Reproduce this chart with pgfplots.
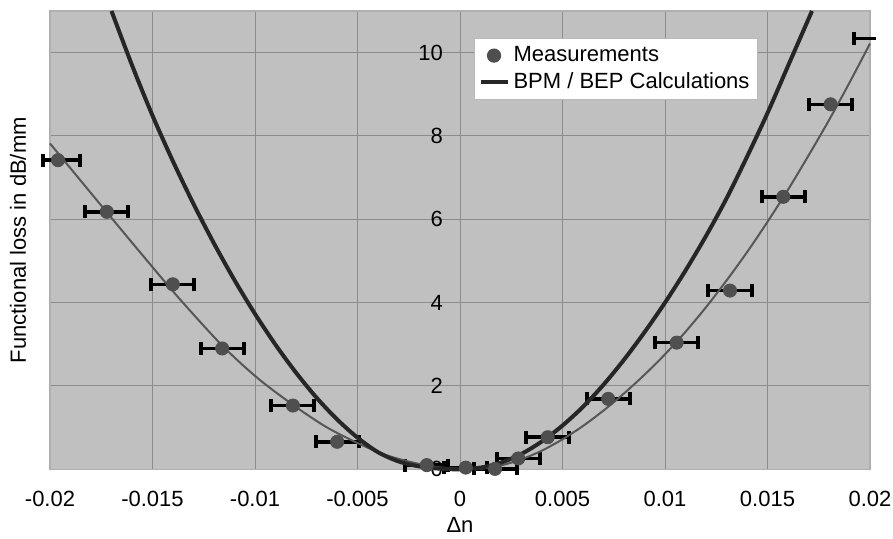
\documentclass[border=0pt]{standalone}
\usepackage{fontspec}
\setmainfont{Liberation Sans}
\usepackage{pgfplots}
\pgfplotsset{compat=1.18}
\definecolor{plotbg}{HTML}{C0C0C0}
\definecolor{gridgray}{HTML}{8C8C8C}
\definecolor{markgray}{HTML}{4F4F4F}
\definecolor{fitgray}{HTML}{575757}
\definecolor{calcdark}{HTML}{262626}

\begin{document}
\begin{tikzpicture}[font=\fontsize{11}{13}\selectfont]
  \begin{axis}[
    at={(0,0)}, anchor=south west,
    scale only axis, width=410pt, height=229.15pt,
    xmin=-0.02, xmax=0.02, ymin=0, ymax=11,
    clip=false,
    scaled x ticks=false, scaled y ticks=false,
    axis background/.style={fill=plotbg},
    axis line style={draw=gridgray!70!white, line width=0.6pt},
    grid=major,
    major grid style={draw=gridgray, line width=0.5pt},
    major tick length=0pt,
    xtick={-0.02,-0.015,-0.01,-0.005,0,0.005,0.01,0.015,0.02},
    xticklabels={-0.02,-0.015,-0.01,-0.005,0,0.005,0.01,0.015,0.02},
    ytick={0,2,4,6,8,10},
    yticklabels={0,2,4,6,8,10},
    xticklabel style={yshift=-7.5pt},
    yticklabel style={xshift=200pt},
    xlabel={Δn},
    xlabel style={at={(axis description cs:0.5,0)}, anchor=center, yshift=-27.9pt},
    ylabel={Functional loss in dB/mm},
    ylabel style={at={(axis description cs:0,0.5)}, anchor=center, yshift=16pt},
    legend cell align=left,
    legend style={at={(axis description cs:0.5171,0.941)}, anchor=north west,
      draw=gridgray!60!white, fill=white, line width=0.5pt,
      inner xsep=2pt, inner ysep=2pt, row sep=0pt,
      font=\fontsize{11}{13}\selectfont},
    legend image code/.code={%
      \draw[mark repeat=2,mark phase=2,#1] plot coordinates {(0pt,0pt) (6.75pt,0pt) (13.5pt,0pt)};},
  ]
    % measurements with horizontal error bars
    \addplot[only marks, mark=*, mark size=3.3pt,
      mark options={fill=markgray, draw=markgray},
      error bars/.cd, x dir=both, x explicit, error mark=|,
      error bar style={line width=1.8pt, black},
      error mark options={line width=2pt, mark size=3.2pt, black}]
      coordinates {
        (-0.01961,7.42) += (0.00105,0) -= (0.00073,0)
        (-0.01723,6.18) +- (0.00105,0)
        (-0.01401,4.44) +- (0.00105,0)
        (-0.01160,2.90) +- (0.00105,0)
        (-0.00815,1.53) +- (0.00105,0)
        (-0.00599,0.66) +- (0.00105,0)
        (-0.00162,0.10) +- (0.00105,0)
        (0.00028,0.04) +- (0.00105,0)
        (0.00171,0.01) +- (0.00105,0)
        (0.00284,0.26) +- (0.00105,0)
        (0.00428,0.77) +- (0.00105,0)
        (0.00723,1.69) +- (0.00105,0)
        (0.01057,3.04) +- (0.00105,0)
        (0.01317,4.29) +- (0.00105,0)
        (0.01577,6.54) +- (0.00105,0)
        (0.01808,8.76) +- (0.00105,0)
      };
    \addlegendentry{Measurements}

    % last measurement sits past the right edge, only its bar shows
    \addplot[forget plot, mark=none, draw=none,
      error bars/.cd, x dir=minus, x explicit, error mark=|,
      error bar style={line width=1.8pt, black},
      error mark options={line width=2pt, mark size=3.2pt, black}]
      coordinates {(0.02029,10.34) -= (0.00108,0)};

    % fit through the measurements
    \addplot[forget plot, fitgray, line width=1pt, smooth, tension=0.5]
      coordinates {
        (-0.0200,7.82) (-0.01723,6.17) (-0.01537,5.07) (-0.01366,4.08)
        (-0.01160,2.97) (-0.00985,2.18) (-0.00810,1.53) (-0.00654,1.02)
        (-0.00504,0.64) (-0.00366,0.35) (-0.00228,0.16) (-0.00098,0.045)
        (0.0005,0.0) (0.0010,0.012) (0.0020,0.094) (0.0030,0.24)
        (0.0040,0.45) (0.0050,0.72) (0.0060,1.04) (0.0070,1.41)
        (0.0080,1.82) (0.0090,2.27) (0.0100,2.76) (0.0110,3.30)
        (0.0120,3.89) (0.0130,4.53) (0.0140,5.21) (0.0150,5.94)
        (0.0160,6.71) (0.0170,7.53) (0.0180,8.38) (0.0190,9.28)
        (0.0200,10.22)
      };

    % BPM / BEP calculation
    \addplot[calcdark, line width=2pt, smooth, tension=0.5]
      coordinates {
        (-0.0170,11.0) (-0.016,9.70) (-0.015,8.49) (-0.014,7.39)
        (-0.013,6.37) (-0.012,5.42) (-0.011,4.54) (-0.010,3.73)
        (-0.009,2.99) (-0.008,2.32) (-0.007,1.72) (-0.006,1.20)
        (-0.005,0.76) (-0.004,0.41) (-0.003,0.19) (-0.002,0.07)
        (-0.001,0.015) (0.000,0.0) (0.001,0.04) (0.002,0.16)
        (0.003,0.37) (0.004,0.67) (0.005,1.05) (0.006,1.50)
        (0.007,2.03) (0.008,2.63) (0.009,3.29) (0.010,4.00)
        (0.011,4.77) (0.012,5.60) (0.013,6.50) (0.014,7.50)
        (0.015,8.55) (0.016,9.68) (0.01717,11.0)
      };
    \addlegendentry{BPM / BEP Calculations}
  \end{axis}
  \pgfresetboundingbox
  \path[use as bounding box] (-25pt,-34.85pt) rectangle (421.5pt,234.65pt);
\end{tikzpicture}
\end{document}
